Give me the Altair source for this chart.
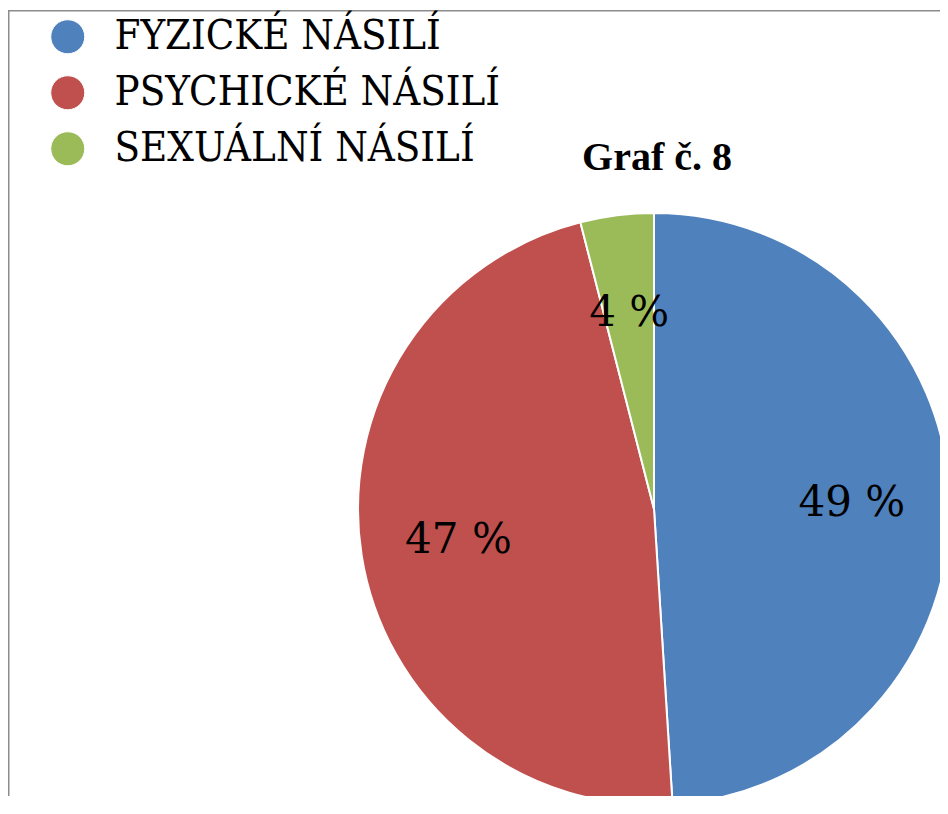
import altair as alt
import pandas as pd

categories = ["FYZICKÉ NÁSILÍ", "PSYCHICKÉ NÁSILÍ", "SEXUÁLNÍ NÁSILÍ"]
values = [49, 47, 4]
labels = ["49 %", "47 %", "4 %"]
colors = ["#4F81BD", "#C0504D", "#9BBB59"]
title_text = "Graf č. 8"

df = pd.DataFrame({"cat": categories, "val": values, "lab": labels, "ord": [0, 1, 2]})

W, H = 932, 786
CX, CY = 646, 499
R = 296

base = alt.Chart(df).encode(
    theta=alt.Theta("val:Q", stack=True),
    order=alt.Order("ord:Q"),
)

pie = base.mark_arc(radius=R, stroke="white", strokeWidth=2, x=CX, y=CY).encode(
    color=alt.Color(
        "cat:N",
        scale=alt.Scale(domain=categories, range=colors),
        sort=categories,
        legend=alt.Legend(
            title=None,
            orient="none",
            legendX=39,
            legendY=6,
            symbolType="circle",
            symbolSize=1156,
            symbolStrokeColor="white",
            symbolStrokeWidth=1,
            labelFont="DejaVu Serif Condensed",
            labelFontSize=41.5,
            labelColor="black",
            labelOffset=26,
            rowPadding=13,
            labelLimit=0,
            padding=0,
        ),
    )
)

text = base.mark_text(radius=198, font="DejaVu Serif", fontSize=42, color="black", x=CX, y=CY).encode(
    text="lab:N"
)

title = alt.Chart(pd.DataFrame({"t": [title_text]})).mark_text(
    font="Liberation Serif", fontSize=40, fontWeight="bold", color="black", baseline="alphabetic"
).encode(text="t:N", x=alt.value(649), y=alt.value(160))

border_left = alt.Chart(pd.DataFrame({"a": [0]})).mark_rule(color="#8c8c8c", strokeWidth=1.5).encode(
    x=alt.value(0.75), y=alt.value(0), y2=alt.value(H + 20)
)
border_top = alt.Chart(pd.DataFrame({"a": [0]})).mark_rule(color="#8c8c8c", strokeWidth=1.5).encode(
    y=alt.value(0.75), x=alt.value(0), x2=alt.value(W + 20)
)

chart = alt.layer(pie, text, title, border_left, border_top).properties(
    width=W,
    height=H,
    autosize=alt.AutoSizeParams(type="none"),
    padding={"left": 0, "top": 2, "right": 0, "bottom": 0},
).configure_view(stroke=None)

chart.save("out.html", embed_options={"renderer": "svg", "actions": False})
